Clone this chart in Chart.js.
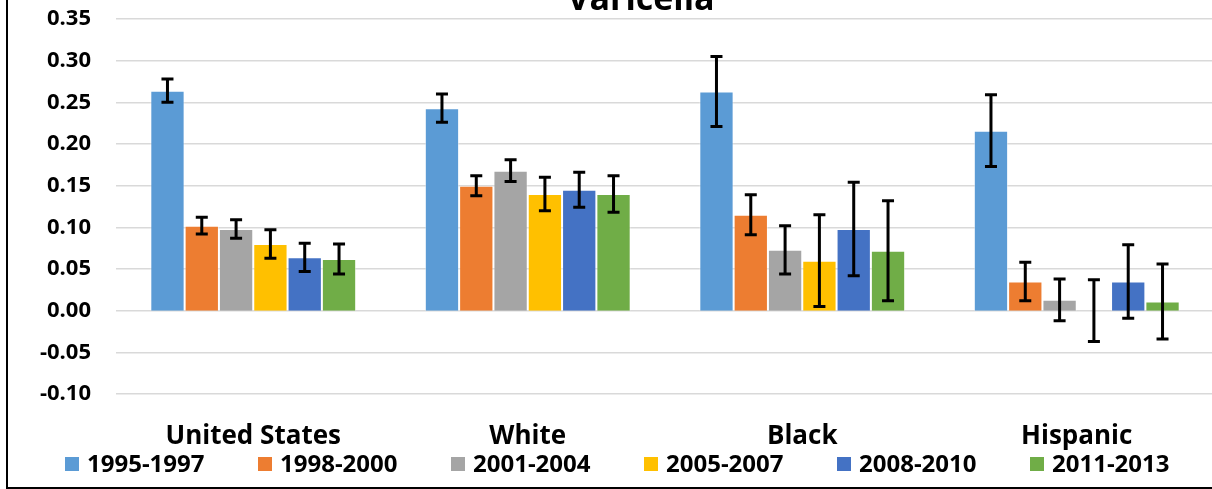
<!DOCTYPE html>
<html>
<head>
<meta charset="utf-8">
<script src="https://cdn.jsdelivr.net/npm/chart.js@4.4.1/dist/chart.umd.min.js"></script>
<style>
html,body{margin:0;padding:0;background:#fff;overflow:hidden;width:1212px;height:489px;}
#wrap{position:absolute;left:0;top:0;width:1216px;height:489px;}
</style>
</head>
<body>
<div id="wrap"><canvas id="c" width="1216" height="489"></canvas></div>
<script>
const titleText = 'Varicella';
const categories = ['United States', 'White', 'Black', 'Hispanic'];
const seriesLabels = ['1995-1997', '1998-2000', '2001-2004', '2005-2007', '2008-2010', '2011-2013'];
const seriesColors = ['#5B9BD5', '#ED7D31', '#A5A5A5', '#FFC000', '#4472C4', '#70AD47'];

const v1995 = [0.264, 0.243, 0.263, 0.216];
const v1998 = [0.102, 0.150, 0.115, 0.035];
const v2001 = [0.098, 0.168, 0.073, 0.013];
const v2005 = [0.080, 0.140, 0.060, 0.000];
const v2008 = [0.064, 0.145, 0.098, 0.035];
const v2011 = [0.062, 0.140, 0.072, 0.011];

const e1995 = [0.014, 0.017, 0.042, 0.043];
const e1998 = [0.010, 0.012, 0.024, 0.023];
const e2001 = [0.011, 0.013, 0.029, 0.025];
const e2005 = [0.017, 0.020, 0.055, 0.037];
const e2008 = [0.017, 0.021, 0.056, 0.044];
const e2011 = [0.018, 0.022, 0.060, 0.045];

const yMin = -0.10, yMax = 0.35, yStep = 0.05;

const values = [v1995, v1998, v2001, v2005, v2008, v2011];
const errors = [e1995, e1998, e2001, e2005, e2008, e2011];

const FONT = "'Open Sans', 'DejaVu Sans', sans-serif";

const errorBarPlugin = {
  id: 'errorBars',
  afterDatasetsDraw(chart) {
    const ctx = chart.ctx;
    const ys = chart.scales.y;
    ctx.save();
    ctx.strokeStyle = '#000';
    ctx.lineWidth = 3;
    ctx.lineCap = 'butt';
    chart.data.datasets.forEach((ds, i) => {
      const meta = chart.getDatasetMeta(i);
      meta.data.forEach((bar, j) => {
        const v = ds.data[j], e = ds.errors[j];
        const x = bar.x;
        const yt = ys.getPixelForValue(v + e);
        const yb = ys.getPixelForValue(v - e);
        ctx.beginPath();
        ctx.moveTo(x, yt); ctx.lineTo(x, yb);
        ctx.moveTo(x - 6, yt); ctx.lineTo(x + 6, yt);
        ctx.moveTo(x - 6, yb); ctx.lineTo(x + 6, yb);
        ctx.stroke();
      });
    });
    ctx.restore();
  }
};

const decorPlugin = {
  id: 'decor',
  afterDraw(chart) {
    const ctx = chart.ctx;
    ctx.save();
    // title (cropped at top)
    ctx.fillStyle = '#000';
    ctx.font = "bold 34px " + FONT;
    ctx.textAlign = 'center';
    ctx.textBaseline = 'alphabetic';
    ctx.fillText(titleText, 641, 10);
    // custom legend
    ctx.font = "bold 24px " + FONT;
    ctx.textAlign = 'left';
    ctx.textBaseline = 'middle';
    const startX = 65, step = 193, boxY = 457, box = 14;
    chart.data.datasets.forEach((ds, i) => {
      const x = startX + i * step;
      ctx.fillStyle = ds.backgroundColor;
      ctx.fillRect(x, boxY, box, box);
      ctx.fillStyle = '#000';
      ctx.fillText(ds.label, x + box + 8, boxY + box / 2 + 1);
    });
    // frame lines
    ctx.fillStyle = '#000';
    ctx.fillRect(6, 0, 2, 489);
    ctx.fillRect(6, 487, 1210, 2);
    ctx.restore();
  }
};

new Chart(document.getElementById('c'), {
  type: 'bar',
  data: {
    labels: categories,
    datasets: seriesLabels.map((lab, i) => ({
      label: lab,
      data: values[i],
      errors: errors[i],
      backgroundColor: seriesColors[i],
      borderColor: 'rgba(255,255,255,0.45)',
      borderWidth: 1,
      barPercentage: 1.0,
      categoryPercentage: 0.75
    }))
  },
  options: {
    responsive: false,
    animation: false,
    devicePixelRatio: 1,
    layout: { padding: { top: 19, bottom: 35, left: 0, right: 2 } },
    plugins: {
      legend: { display: false },
      title: { display: false },
      tooltip: { enabled: false }
    },
    scales: {
      x: {
        grid: { display: false, drawTicks: false },
        border: { display: false },
        ticks: {
          color: '#000',
          font: { family: FONT, size: 26, weight: 'bold' },
          padding: 27,
          maxRotation: 0,
          autoSkip: false
        },
        afterFit(scale) { scale.height = 60; scale.paddingLeft = 0; scale.paddingRight = 0; }
      },
      y: {
        min: yMin,
        max: yMax,
        grid: { color: '#d9d9d9', lineWidth: 1.5, drawTicks: false },
        border: { display: false },
        ticks: {
          stepSize: yStep,
          color: '#000',
          padding: 25,
          font: { family: FONT, size: 22, weight: 'bold' },
          callback: (v) => {
            const r = Math.round(Number(v) * 100) / 100;
            return (Math.abs(r) < 1e-9 ? 0 : r).toFixed(2);
          }
        },
        afterFit(scale) { scale.width = 116; scale.paddingTop = 0; scale.paddingBottom = 0; }
      }
    }
  },
  plugins: [errorBarPlugin, decorPlugin]
});
</script>
</body>
</html>
